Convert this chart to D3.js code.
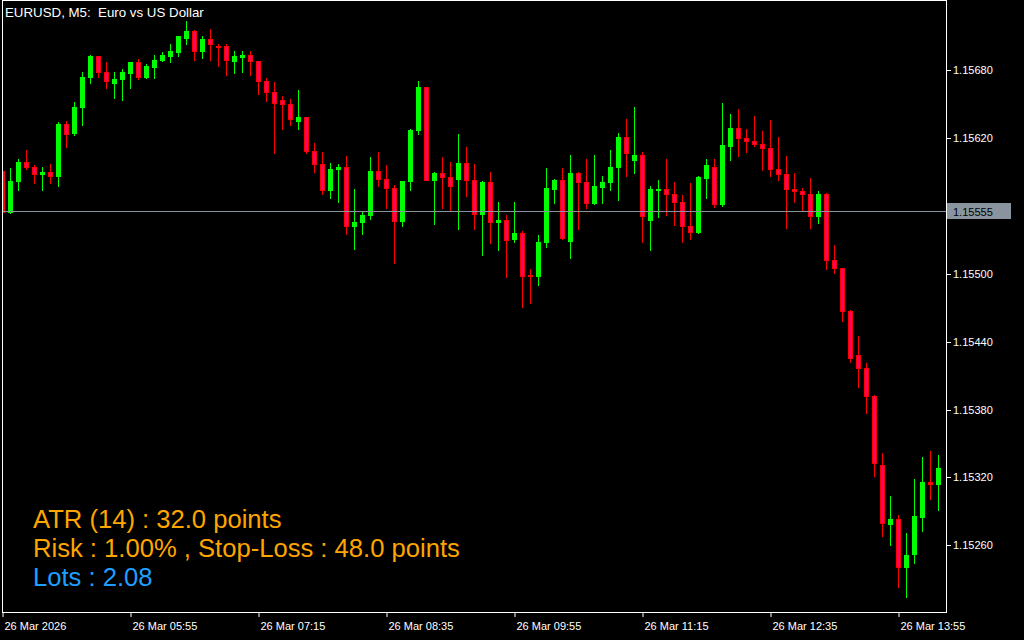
<!DOCTYPE html>
<html>
<head>
<meta charset="utf-8">
<script src="https://cdn.jsdelivr.net/npm/d3@7"></script>
<style>
  body { margin: 0; background: #000; }
  svg { display: block; }
  text { font-family: "Liberation Sans", Arial, sans-serif; }
</style>
</head>
<body>
<svg id="chart" width="1024" height="640"></svg>
<script>
// EURUSD M5 bars, 26 Mar 2026 04:35 .. 14:20
var startTime = new Date(2026, 2, 26, 4, 35);
var open = [1.15591,1.15555,1.15582,1.15599,1.15595,1.15588,1.15590,1.15587,1.15633,1.15625,
  1.15648,1.15674,1.15693,1.15679,1.15669,1.15672,1.15678,1.15687,1.15674,1.15683,
  1.15689,1.15693,1.15696,1.15709,1.15715,1.15697,1.15708,1.15702,1.15702,1.15688,
  1.15692,1.15694,1.15688,1.15671,1.15661,1.15654,1.15650,1.15635,1.15639,1.15609,
  1.15597,1.15574,1.15593,1.15595,1.15542,1.15546,1.15552,1.15591,1.15584,1.15576,
  1.15547,1.15582,1.15627,1.15665,1.15583,1.15589,1.15586,1.15584,1.15598,1.15583,
  1.15553,1.15581,1.15546,1.15548,1.15531,1.15536,1.15499,1.15498,1.15528,1.15575,
  1.15583,1.15529,1.15589,1.15581,1.15563,1.15577,1.15581,1.15595,1.15621,1.15601,
  1.15605,1.15548,1.15574,1.15575,1.15571,1.15564,1.15542,1.15537,1.15585,1.15595,
  1.15562,1.15613,1.15629,1.15620,1.15618,1.15615,1.15611,1.15593,1.15588,1.15575,
  1.15573,1.15571,1.15551,1.15571,1.15512,1.15505,1.15467,1.15428,1.15417,1.15392,
  1.15331,1.15279,1.15283,1.15241,1.15252,1.15285,1.15316,1.15314];
var high = [1.15594,1.15594,1.15602,1.15610,1.15596,1.15595,1.15597,1.15634,1.15635,1.15652,
  1.15679,1.15694,1.15693,1.15687,1.15679,1.15681,1.15687,1.15690,1.15686,1.15694,
  1.15696,1.15703,1.15710,1.15724,1.15716,1.15710,1.15717,1.15703,1.15703,1.15697,
  1.15697,1.15697,1.15688,1.15673,1.15670,1.15657,1.15655,1.15663,1.15639,1.15616,
  1.15608,1.15598,1.15597,1.15604,1.15575,1.15555,1.15603,1.15608,1.15596,1.15579,
  1.15582,1.15628,1.15671,1.15665,1.15590,1.15603,1.15599,1.15624,1.15612,1.15597,
  1.15582,1.15590,1.15564,1.15552,1.15564,1.15538,1.15504,1.15534,1.15594,1.15584,
  1.15594,1.15605,1.15590,1.15602,1.15605,1.15587,1.15610,1.15625,1.15637,1.15648,
  1.15608,1.15578,1.15583,1.15602,1.15581,1.15570,1.15580,1.15587,1.15602,1.15602,
  1.15651,1.15641,1.15646,1.15628,1.15640,1.15626,1.15636,1.15621,1.15604,1.15589,
  1.15576,1.15585,1.15573,1.15572,1.15526,1.15505,1.15468,1.15445,1.15421,1.15393,
  1.15342,1.15304,1.15287,1.15271,1.15319,1.15338,1.15343,1.15340];
var low = [1.15554,1.15554,1.15574,1.15593,1.15580,1.15574,1.15580,1.15578,1.15612,1.15623,
  1.15632,1.15669,1.15674,1.15664,1.15656,1.15654,1.15664,1.15672,1.15673,1.15673,
  1.15688,1.15687,1.15693,1.15703,1.15689,1.15691,1.15689,1.15684,1.15676,1.15678,
  1.15679,1.15676,1.15659,1.15653,1.15607,1.15628,1.15632,1.15628,1.15607,1.15590,
  1.15571,1.15567,1.15564,1.15535,1.15522,1.15535,1.15549,1.15578,1.15558,1.15510,
  1.15542,1.15574,1.15624,1.15583,1.15544,1.15558,1.15556,1.15540,1.15569,1.15540,
  1.15517,1.15527,1.15521,1.15497,1.15528,1.15471,1.15474,1.15490,1.15524,1.15563,
  1.15531,1.15514,1.15540,1.15558,1.15562,1.15563,1.15574,1.15565,1.15587,1.15589,
  1.15528,1.15521,1.15550,1.15552,1.15543,1.15528,1.15531,1.15536,1.15567,1.15559,
  1.15560,1.15601,1.15604,1.15608,1.15613,1.15592,1.15587,1.15583,1.15541,1.15564,
  1.15556,1.15541,1.15545,1.15504,1.15501,1.15458,1.15422,1.15400,1.15377,1.15321,
  1.15268,1.15260,1.15223,1.15214,1.15244,1.15273,1.15301,1.15291];
var close = [1.15555,1.15582,1.15599,1.15595,1.15588,1.15590,1.15587,1.15633,1.15624,1.15648,
  1.15674,1.15693,1.15679,1.15671,1.15672,1.15679,1.15687,1.15674,1.15684,1.15689,
  1.15694,1.15697,1.15710,1.15715,1.15697,1.15708,1.15703,1.15701,1.15689,1.15693,
  1.15694,1.15688,1.15671,1.15661,1.15651,1.15650,1.15637,1.15639,1.15609,1.15597,
  1.15574,1.15593,1.15595,1.15542,1.15546,1.15552,1.15591,1.15584,1.15576,1.15547,
  1.15582,1.15627,1.15665,1.15583,1.15589,1.15586,1.15578,1.15598,1.15583,1.15553,
  1.15581,1.15546,1.15548,1.15530,1.15536,1.15498,1.15498,1.15528,1.15576,1.15583,
  1.15532,1.15589,1.15581,1.15563,1.15578,1.15581,1.15595,1.15621,1.15607,1.15605,
  1.15551,1.15575,1.15575,1.15571,1.15564,1.15542,1.15537,1.15586,1.15596,1.15562,
  1.15614,1.15629,1.15620,1.15618,1.15615,1.15611,1.15593,1.15588,1.15575,1.15573,
  1.15571,1.15551,1.15571,1.15512,1.15505,1.15467,1.15426,1.15417,1.15392,1.15333,
  1.15280,1.15283,1.15241,1.15251,1.15286,1.15316,1.15314,1.15328];

var priceTicks = [1.15680, 1.15620, 1.15500, 1.15440, 1.15380, 1.15320, 1.15260];
var timeTicks = ["26 Mar 2026", "26 Mar 05:55", "26 Mar 07:15", "26 Mar 08:35",
  "26 Mar 09:55", "26 Mar 11:15", "26 Mar 12:35", "26 Mar 13:55"];
var tickStep = 16; // bars between time labels
var bidPrice = 1.15555;
var titleText = "EURUSD, M5:  Euro vs US Dollar";
var infoLines = ["ATR (14) : 32.0 points", "Risk : 1.00% , Stop-Loss : 48.0 points", "Lots : 2.08"];

var W = 1024, H = 640;
var plot = {left: 2, top: 0, right: 946, bottom: 612};

var bars = open.map(function(o, i) {
    return {
        t: d3.timeMinute.offset(startTime, 5 * i),
        o: o, h: high[i], l: low[i], c: close[i]
    };
});

var x = d3.scaleTime()
    .domain([startTime, bars[bars.length - 1].t])
    .range([2.5, 2.5 + 8 * (bars.length - 1)]);
var y = d3.scaleLinear()
    .domain([1.15260, 1.15680])
    .range([545.3, 70.4]);

var svg = d3.select("#chart");
svg.append("rect").attr("width", W).attr("height", H).attr("fill", "#000");

svg.append("defs").append("clipPath").attr("id", "clip")
    .append("rect")
    .attr("x", plot.left).attr("y", plot.top)
    .attr("width", plot.right - plot.left).attr("height", plot.bottom - plot.top);

var g = svg.append("g").attr("clip-path", "url(#clip)");

// wicks
g.selectAll("line.wick")
    .data(bars)
    .enter()
    .append("line")
    .attr("class", "wick")
    .attr("x1", function(d) { return x(d.t); })
    .attr("x2", function(d) { return x(d.t); })
    .attr("y1", function(d) { return Math.round(y(d.h)); })
    .attr("y2", function(d) { return Math.round(y(d.l)) + 1; })
    .attr("stroke", function(d) { return d.c >= d.o ? "#00ff00" : "#ff0000"; })
    .attr("stroke-width", 1);

// bodies
g.selectAll("rect.body")
    .data(bars)
    .enter()
    .append("rect")
    .attr("class", "body")
    .attr("x", function(d) { return x(d.t) - 2; })
    .attr("y", function(d) { return Math.round(y(Math.max(d.o, d.c))) + 0.5; })
    .attr("width", 4)
    .attr("height", function(d) {
        return Math.max(1, Math.round(y(Math.min(d.o, d.c))) - Math.round(y(Math.max(d.o, d.c))));
    })
    .attr("fill", function(d) { return d.c >= d.o ? "#00ff00" : "#ff0066"; })
    .attr("stroke", function(d) { return d.c >= d.o ? "#00ff00" : "#ff0000"; })
    .attr("stroke-width", 1);

// bid line
var bidY = Math.round(y(bidPrice)) - 0.5;
g.append("line")
    .attr("x1", plot.left).attr("x2", plot.right)
    .attr("y1", bidY).attr("y2", bidY)
    .attr("stroke", "#8a949e").attr("stroke-width", 1);

// frame
svg.append("rect")
    .attr("x", plot.left + 0.5).attr("y", 0.5)
    .attr("width", plot.right - plot.left).attr("height", plot.bottom)
    .attr("fill", "none").attr("stroke", "#fff").attr("stroke-width", 1);

// price axis
var yAxis = svg.append("g").attr("class", "yaxis");
yAxis.selectAll("line")
    .data(priceTicks)
    .enter()
    .append("line")
    .attr("x1", plot.right + 0.5).attr("x2", plot.right + 5)
    .attr("y1", function(d) { return Math.round(y(d)) + 0.5; })
    .attr("y2", function(d) { return Math.round(y(d)) + 0.5; })
    .attr("stroke", "#fff");
yAxis.selectAll("text")
    .data(priceTicks)
    .enter()
    .append("text")
    .attr("x", plot.right + 7)
    .attr("y", function(d) { return y(d) + 4; })
    .attr("fill", "#fff")
    .attr("font-size", 11)
    .text(function(d) { return d3.format(".5f")(d); });

// bid label
svg.append("rect")
    .attr("x", plot.right + 1).attr("y", bidY - 8.5)
    .attr("width", 64).attr("height", 16)
    .attr("fill", "#8a949e");
svg.append("text")
    .attr("x", plot.right + 7).attr("y", bidY + 4)
    .attr("fill", "#000").attr("font-size", 11)
    .text(d3.format(".5f")(bidPrice));

// time axis
var xAxis = svg.append("g").attr("class", "xaxis");
xAxis.selectAll("line")
    .data(timeTicks)
    .enter()
    .append("line")
    .attr("x1", function(d, i) { return x(bars[i * tickStep].t) + 0.5; })
    .attr("x2", function(d, i) { return x(bars[i * tickStep].t) + 0.5; })
    .attr("y1", plot.bottom).attr("y2", plot.bottom + 5)
    .attr("stroke", "#fff");
xAxis.selectAll("text")
    .data(timeTicks)
    .enter()
    .append("text")
    .attr("x", function(d, i) { return x(bars[i * tickStep].t) + 2; })
    .attr("y", 630)
    .attr("fill", "#fff")
    .attr("font-size", 11)
    .text(function(d) { return d; });

// title
svg.append("text")
    .attr("x", 5).attr("y", 17)
    .attr("fill", "#fff").attr("font-size", 13.3)
    .attr("xml:space", "preserve")
    .style("white-space", "pre")
    .text(titleText);

// info block
svg.selectAll("text.info")
    .data(infoLines)
    .enter()
    .append("text")
    .attr("class", "info")
    .attr("x", 33)
    .attr("y", function(d, i) { return 528 + i * 29; })
    .attr("fill", function(d, i) { return i < 2 ? "#ffa500" : "#1e9fff"; })
    .attr("font-size", 25.6)
    .text(function(d) { return d; });
</script>
</body>
</html>
